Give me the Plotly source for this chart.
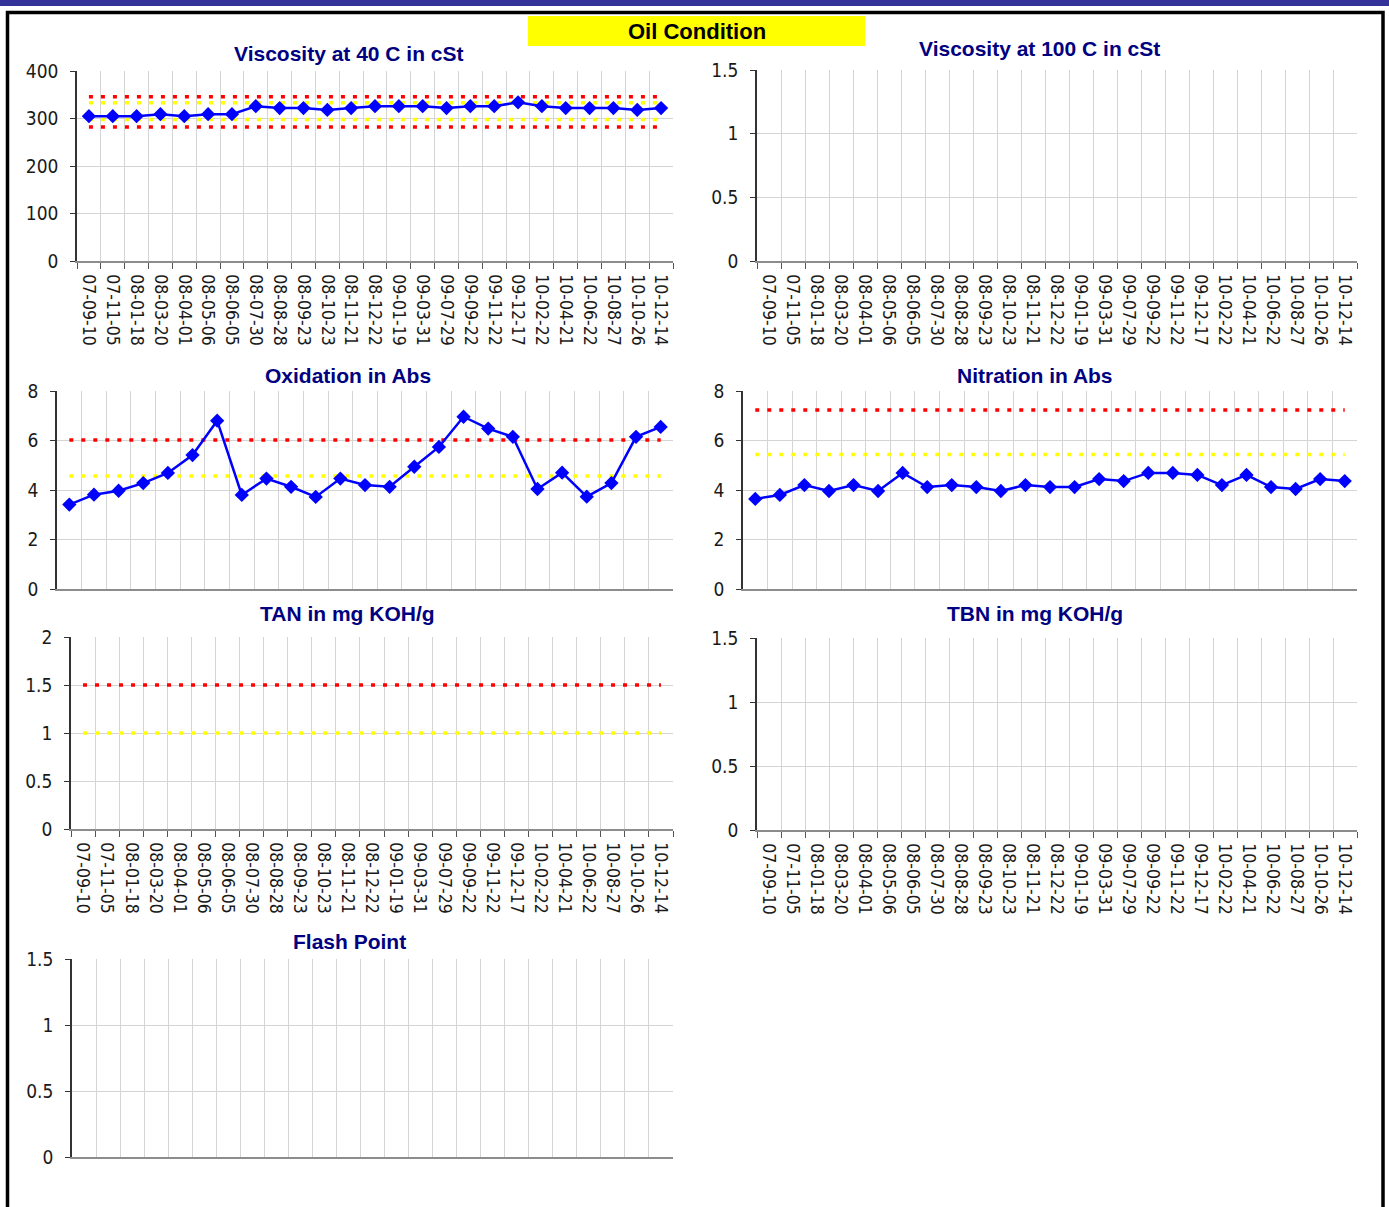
import plotly.graph_objects as go

W, H = 1389, 1207

# ---------------- data ----------------
dates = ["07-09-10", "07-11-05", "08-01-18", "08-03-20", "08-04-01", "08-05-06",
         "08-06-05", "08-07-30", "08-08-28", "08-09-23", "08-10-23", "08-11-21",
         "08-12-22", "09-01-19", "09-03-31", "09-07-29", "09-09-22", "09-11-22",
         "09-12-17", "10-02-22", "10-04-21", "10-06-22", "10-08-27", "10-10-26",
         "10-12-14"]

visc40 = [305, 305, 305, 309, 305, 309, 309, 326, 322, 322, 318, 322, 326,
          326, 326, 322, 326, 326, 334, 326, 322, 322, 322, 318, 322]
visc40_red = [346, 282]
visc40_yellow = [333, 298]

visc100 = [None] * len(dates)

oxidation = [3.41, 3.81, 3.97, 4.28, 4.69, 5.41, 6.80, 3.80, 4.46, 4.13, 3.72,
             4.46, 4.20, 4.13, 4.94, 5.74, 6.96, 6.48, 6.15, 4.04, 4.70, 3.73,
             4.28, 6.15, 6.55]
oxidation_red = [6.02]
oxidation_yellow = [4.57]

nitration = [3.64, 3.80, 4.20, 3.96, 4.20, 3.96, 4.69, 4.12, 4.20, 4.12, 3.96,
             4.20, 4.12, 4.12, 4.44, 4.36, 4.69, 4.69, 4.61, 4.20, 4.61, 4.12,
             4.04, 4.44, 4.36]
nitration_red = [7.23]
nitration_yellow = [5.43]

tan = [None] * len(dates)
tan_red = [1.5]
tan_yellow = [1.0]

tbn = [None] * len(dates)
flash = [None] * len(dates)

# ---------------- styling ----------------
NARROW = "DejaVu Sans Condensed, Liberation Sans Narrow, Liberation Sans, sans-serif"
XTICK_FONT = dict(family=NARROW, size=17.5, color="#1a1a1a")
YTICK_FONT = dict(family=NARROW, size=19, color="#1a1a1a")
TITLE_FONT = dict(family="Liberation Sans, Arial, sans-serif", size=21, color="#000080", weight="bold")
GRID = "#d4d4d4"
BLUE = "#0000FF"


def fx(px):
    return px / W


def fy(py):
    return 1 - py / H


panels = [
    dict(title="Viscosity at 40 C in cSt", xs=(77, 673), ys=(71, 261), yr=(0, 400), dt=100,
         labels=True, tpos=(349, 53), values=visc40, red=visc40_red, yellow=visc40_yellow),
    dict(title="Viscosity at 100 C in cSt", xs=(757, 1357), ys=(70, 261), yr=(0, 1.5), dt=0.5,
         labels=True, tpos=(1039, 49), values=visc100, red=[], yellow=[]),
    dict(title="Oxidation in Abs", xs=(57, 673), ys=(391, 589), yr=(0, 8), dt=2,
         labels=False, tpos=(348, 375), values=oxidation, red=oxidation_red, yellow=oxidation_yellow),
    dict(title="Nitration in Abs", xs=(743, 1357), ys=(391, 589), yr=(0, 8), dt=2,
         labels=False, tpos=(1035, 375), values=nitration, red=nitration_red, yellow=nitration_yellow),
    dict(title="TAN in mg KOH/g", xs=(71, 673), ys=(637, 829), yr=(0, 2), dt=0.5,
         labels=True, tpos=(347, 613), values=tan, red=tan_red, yellow=tan_yellow),
    dict(title="TBN in mg KOH/g", xs=(757, 1357), ys=(638, 830), yr=(0, 1.5), dt=0.5,
         labels=True, tpos=(1035, 613), values=tbn, red=[], yellow=[]),
    dict(title="Flash Point", xs=(72, 673), ys=(959, 1157), yr=(0, 1.5), dt=0.5,
         labels=False, tpos=(349, 941), values=flash, red=[], yellow=[]),
]

fig = go.Figure()
annotations = []

for i, p in enumerate(panels, start=1):
    xa = "x" if i == 1 else f"x{i}"
    ya = "y" if i == 1 else f"y{i}"
    xkey = "xaxis" if i == 1 else f"xaxis{i}"
    ykey = "yaxis" if i == 1 else f"yaxis{i}"

    # limit lines (drawn beneath the data)
    for val in p["yellow"]:
        fig.add_trace(go.Scatter(x=[dates[0], dates[-1]], y=[val, val], mode="lines",
                                 line=dict(color="#FFFF00", width=3.5, dash="4px,8px"),
                                 xaxis=xa, yaxis=ya, hoverinfo="skip", showlegend=False))
    for val in p["red"]:
        fig.add_trace(go.Scatter(x=[dates[0], dates[-1]], y=[val, val], mode="lines",
                                 line=dict(color="#FF0000", width=3.5, dash="4px,8px"),
                                 xaxis=xa, yaxis=ya, hoverinfo="skip", showlegend=False))

    fig.add_trace(go.Scatter(x=dates, y=p["values"], mode="lines+markers",
                             line=dict(color=BLUE, width=2.5),
                             marker=dict(symbol="diamond", size=11, color=BLUE),
                             xaxis=xa, yaxis=ya, showlegend=False))

    fig.layout[xkey] = dict(
        domain=[fx(p["xs"][0]), fx(p["xs"][1])], anchor=ya,
        type="category", categoryorder="array", categoryarray=dates,
        range=[-0.5, len(dates) - 0.5], tickson="boundaries",
        tickmode="linear", tick0=0, dtick=1,
        showgrid=True, gridcolor=GRID, gridwidth=1,
        showline=True, linecolor="#8c8c8c", linewidth=1.5,
        ticks="outside" if p["labels"] else "", ticklen=6, tickcolor="#555555",
        showticklabels=p["labels"], tickangle=90, tickfont=XTICK_FONT,
        ticklabelstandoff=8,
        zeroline=False, fixedrange=True, automargin=False,
    )
    fig.layout[ykey] = dict(
        domain=[fy(p["ys"][1]), fy(p["ys"][0])], anchor=xa,
        range=list(p["yr"]), tick0=0, dtick=p["dt"],
        showgrid=True, gridcolor=GRID, gridwidth=1,
        showline=True, linecolor="#333333", linewidth=1.5,
        ticks="outside", ticklen=5, tickcolor="#333333",
        tickfont=YTICK_FONT, ticklabelstandoff=8,
        zeroline=False, fixedrange=True, automargin=False,
    )

    annotations.append(dict(text=p["title"], x=fx(p["tpos"][0]), y=fy(p["tpos"][1]),
                            xref="paper", yref="paper", xanchor="center", yanchor="middle",
                            showarrow=False, font=TITLE_FONT))

annotations.append(dict(text="Oil Condition", x=fx(697), y=fy(32), xref="paper", yref="paper",
                        xanchor="center", yanchor="middle", showarrow=False,
                        font=dict(family="Liberation Sans, Arial, sans-serif", size=22,
                                  color="#000000", weight="bold")))

shapes = [
    # top blue band
    dict(type="rect", xref="paper", yref="paper", x0=0, x1=1, y0=fy(6), y1=fy(0),
         fillcolor="#333399", line=dict(width=0), layer="above"),
    # outer black frame
    dict(type="rect", xref="paper", yref="paper", x0=fx(7.5), x1=fx(1383), y0=fy(1240), y1=fy(12.5),
         fillcolor="rgba(0,0,0,0)", line=dict(color="#000000", width=3.5), layer="above"),
    # yellow heading box
    dict(type="rect", xref="paper", yref="paper", x0=fx(528), x1=fx(865), y0=fy(46), y1=fy(16),
         fillcolor="#FFFF00", line=dict(width=0), layer="below"),
]

fig.update_layout(
    width=W, height=H, autosize=False,
    margin=dict(l=0, r=0, t=0, b=0, pad=0, autoexpand=False),
    paper_bgcolor="white", plot_bgcolor="white",
    showlegend=False,
    annotations=annotations, shapes=shapes,
)

fig.write_html("out.html", config={"displayModeBar": False},
               post_script="document.body.style.margin='0';document.body.style.overflow='hidden';")
